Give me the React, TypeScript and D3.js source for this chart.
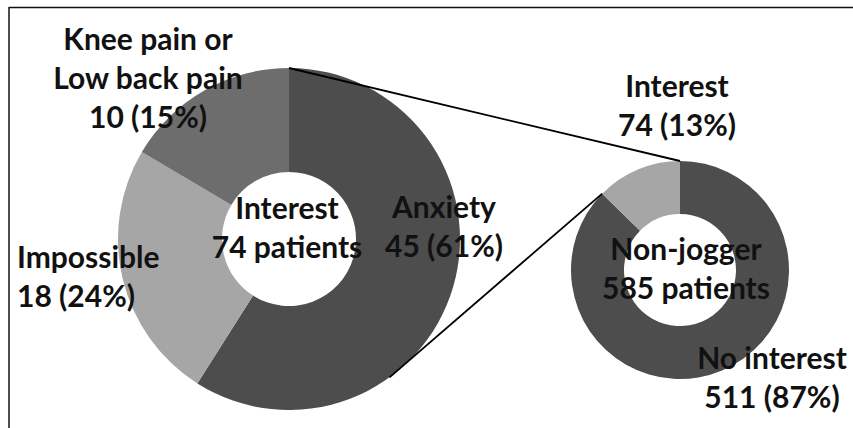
import * as d3 from "d3";

// big donut: reasons given by the 74 interested patients
const reasonNames = ["Anxiety", "Impossible", "Knee pain or Low back pain"];
const reasonShares = [59, 24.5, 16.5]; // slice sizes as drawn
const reasonColors = ["#4d4d4d", "#a6a6a6", "#6d6d6d"];

// small donut: non-joggers
const joggerNames = ["No interest", "Interest"];
const joggerCounts = [511, 74];
const joggerColors = ["#4d4d4d", "#a6a6a6"];

const labelFont = "Lato, 'Open Sans', sans-serif";

export default function App() {
  const width = 853;
  const height = 428;

  const big = { cx: 289, cy: 239, r: 171, inner: 67 };
  const small = { cx: 680, cy: 270, r: 109, inner: 56 };

  const pie = d3.pie<number>().sort(null).value(d => d);
  const bigArcs = pie(reasonShares);
  const smallArcs = pie(joggerCounts);

  const bigArc = d3.arc<d3.PieArcDatum<number>>()
    .innerRadius(big.inner)
    .outerRadius(big.r);
  const smallArc = d3.arc<d3.PieArcDatum<number>>()
    .innerRadius(small.inner)
    .outerRadius(small.r);

  // connector lines between the two donuts
  const p1a = d3.pointRadial(bigArcs[0].startAngle, big.r);
  const p1b = d3.pointRadial(smallArcs[0].startAngle, small.r);
  const p2a = d3.pointRadial((144 * Math.PI) / 180, big.r);
  const p2b = d3.pointRadial(smallArcs[1].startAngle, small.r);

  const labels: { lines: string[]; x: number; y: number; anchor: string }[] = [
    { lines: ["Knee pain or", "Low back pain", "10 (15%)"], x: 148, y: 50, anchor: "middle" },
    { lines: ["Impossible", "18 (24%)"], x: 17, y: 268, anchor: "start" },
    { lines: ["Anxiety", "45 (61%)"], x: 444, y: 218, anchor: "middle" },
    { lines: ["Interest", "74 patients"], x: 287, y: 219, anchor: "middle" },
    { lines: ["Interest", "74 (13%)"], x: 677, y: 97, anchor: "middle" },
    { lines: ["Non-jogger", "585 patients"], x: 686, y: 260, anchor: "middle" },
    { lines: ["No interest", "511 (87%)"], x: 772, y: 369, anchor: "middle" },
  ];

  return (
    <svg
      width={width}
      height={height}
      style={{ position: "absolute", left: 0, top: 0, background: "#fff" }}
    >
      {/* frame */}
      <line x1={9} x2={width} y1={7.5} y2={7.5} stroke="#111" strokeWidth={1.5} />
      <line x1={9} x2={9} y1={7} y2={height} stroke="#111" strokeWidth={1.5} />

      <g transform={`translate(${big.cx},${big.cy})`}>
        {bigArcs.map((a, i) => (
          <path key={reasonNames[i]} d={bigArc(a) as string} fill={reasonColors[i]} />
        ))}
      </g>

      <g transform={`translate(${small.cx},${small.cy})`}>
        {smallArcs.map((a, i) => (
          <path key={joggerNames[i]} d={smallArc(a) as string} fill={joggerColors[i]} />
        ))}
      </g>

      <line
        x1={big.cx + p1a[0]} y1={big.cy + p1a[1]}
        x2={small.cx + p1b[0]} y2={small.cy + p1b[1]}
        stroke="#000" strokeWidth={1.8}
      />
      <line
        x1={big.cx + p2a[0]} y1={big.cy + p2a[1]}
        x2={small.cx + p2b[0]} y2={small.cy + p2b[1]}
        stroke="#000" strokeWidth={1.8}
      />

      {labels.map((l, i) => (
        <text
          key={i}
          x={l.x}
          y={l.y}
          textAnchor={l.anchor}
          fontFamily={labelFont}
          fontWeight={700}
          fontSize={30}
          fill="#111"
        >
          {l.lines.map((t, j) => (
            <tspan key={j} x={l.x} dy={j === 0 ? 0 : 39}>{t}</tspan>
          ))}
        </text>
      ))}
    </svg>
  );
}
